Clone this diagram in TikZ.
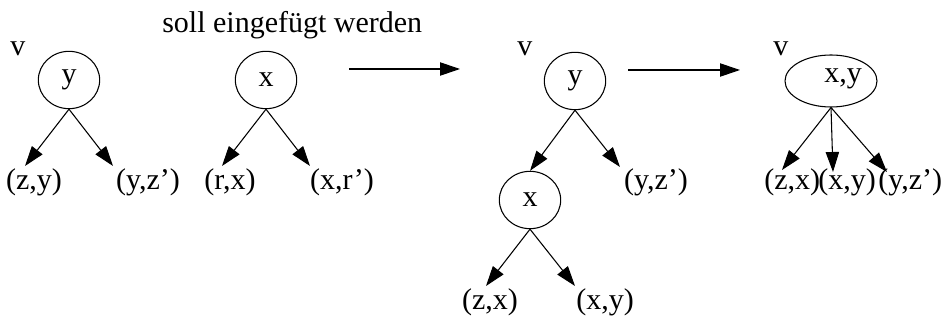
\documentclass[tikz,border=0pt]{standalone}
\usepackage{fontspec}
\setmainfont{Liberation Serif}
\usetikzlibrary{arrows.meta,shapes.geometric}
\begin{document}
\begin{tikzpicture}[x=0.75pt,y=-0.75pt,
  every node/.style={font=\fontsize{22.5}{26}\selectfont},
  nd/.style={draw,ellipse,line width=0.8pt,minimum width=46pt,minimum height=43pt,inner sep=0pt},
  lab/.style={anchor=base,inner sep=0pt},
  vlab/.style={anchor=base west,inner sep=0pt},
  ar/.style={line width=0.8pt,-{Triangle[length=15pt,width=10pt]}}]
\useasboundingbox (0,0) rectangle (946,320);
% title
\node[vlab] (title) at (162,33) {soll eingefügt werden};
% tree 1
\node[vlab] (v1) at (10,56) {v};
\node[nd] (a1) at (69,80) {y};
\coordinate (a1l) at (25,166);
\coordinate (a1r) at (113,166);
\draw[ar] (a1.south) -- (a1l);
\draw[ar] (a1.south) -- (a1r);
\node[lab] (zy) at (34,190) {(z,y)};
\node[lab] (yz1) at (148,190) {(y,z')};
% tree 2
\node[nd] (b1) at (266,80) {x};
\coordinate (b1l) at (222,166);
\coordinate (b1r) at (310,166);
\draw[ar] (b1.south) -- (b1l);
\draw[ar] (b1.south) -- (b1r);
\node[lab] (rx) at (230,190) {(r,x)};
\node[lab] (xr) at (342,190) {(x,r')};
% arrow 1
\coordinate (m1s) at (349,69);
\coordinate (m1e) at (460,69);
\draw[ar] (m1s) -- (m1e);
% tree 3
\node[vlab] (v2) at (517,56) {v};
\node[nd] (c1) at (575,81) {y};
\node[nd] (c2) at (530,200) {x};
\coordinate (c1r) at (620,167);
\draw[ar] (c1.south) -- (c2.north);
\draw[ar] (c1.south) -- (c1r);
\node[lab] (yz2) at (656,190) {(y,z')};
\coordinate (c2l) at (486,286);
\coordinate (c2r) at (575,286);
\draw[ar] (c2.south) -- (c2l);
\draw[ar] (c2.south) -- (c2r);
\node[lab] (zx1) at (490,310) {(z,x)};
\node[lab] (xy1) at (605,310) {(x,y)};
% arrow 2
\coordinate (m2s) at (628,70);
\coordinate (m2e) at (740,70);
\draw[ar] (m2s) -- (m2e);
% tree 4
\node[vlab] (v3) at (773,56) {v};
\node[draw,ellipse,line width=0.8pt,minimum width=69pt,minimum height=39pt,inner sep=0pt] (d1) at (831,81) {};
\node (d1t) at (843,79) {x,y};
\coordinate (d1l) at (782,170);
\coordinate (d1m) at (833,172);
\coordinate (d1r) at (887,172);
\draw[ar] (d1.south) -- (d1l);
\draw[ar] (d1.south) -- (d1m);
\draw[ar] (d1.south) -- (d1r);
\node[lab,anchor=base west] (zx2) at (764,190) {(z,x)};
\node[lab,anchor=base west] (xy2) at (818,190) {(x,y)};
\node[lab,anchor=base west] (yz3) at (878,190) {(y,z')};
\end{tikzpicture}
\end{document}
